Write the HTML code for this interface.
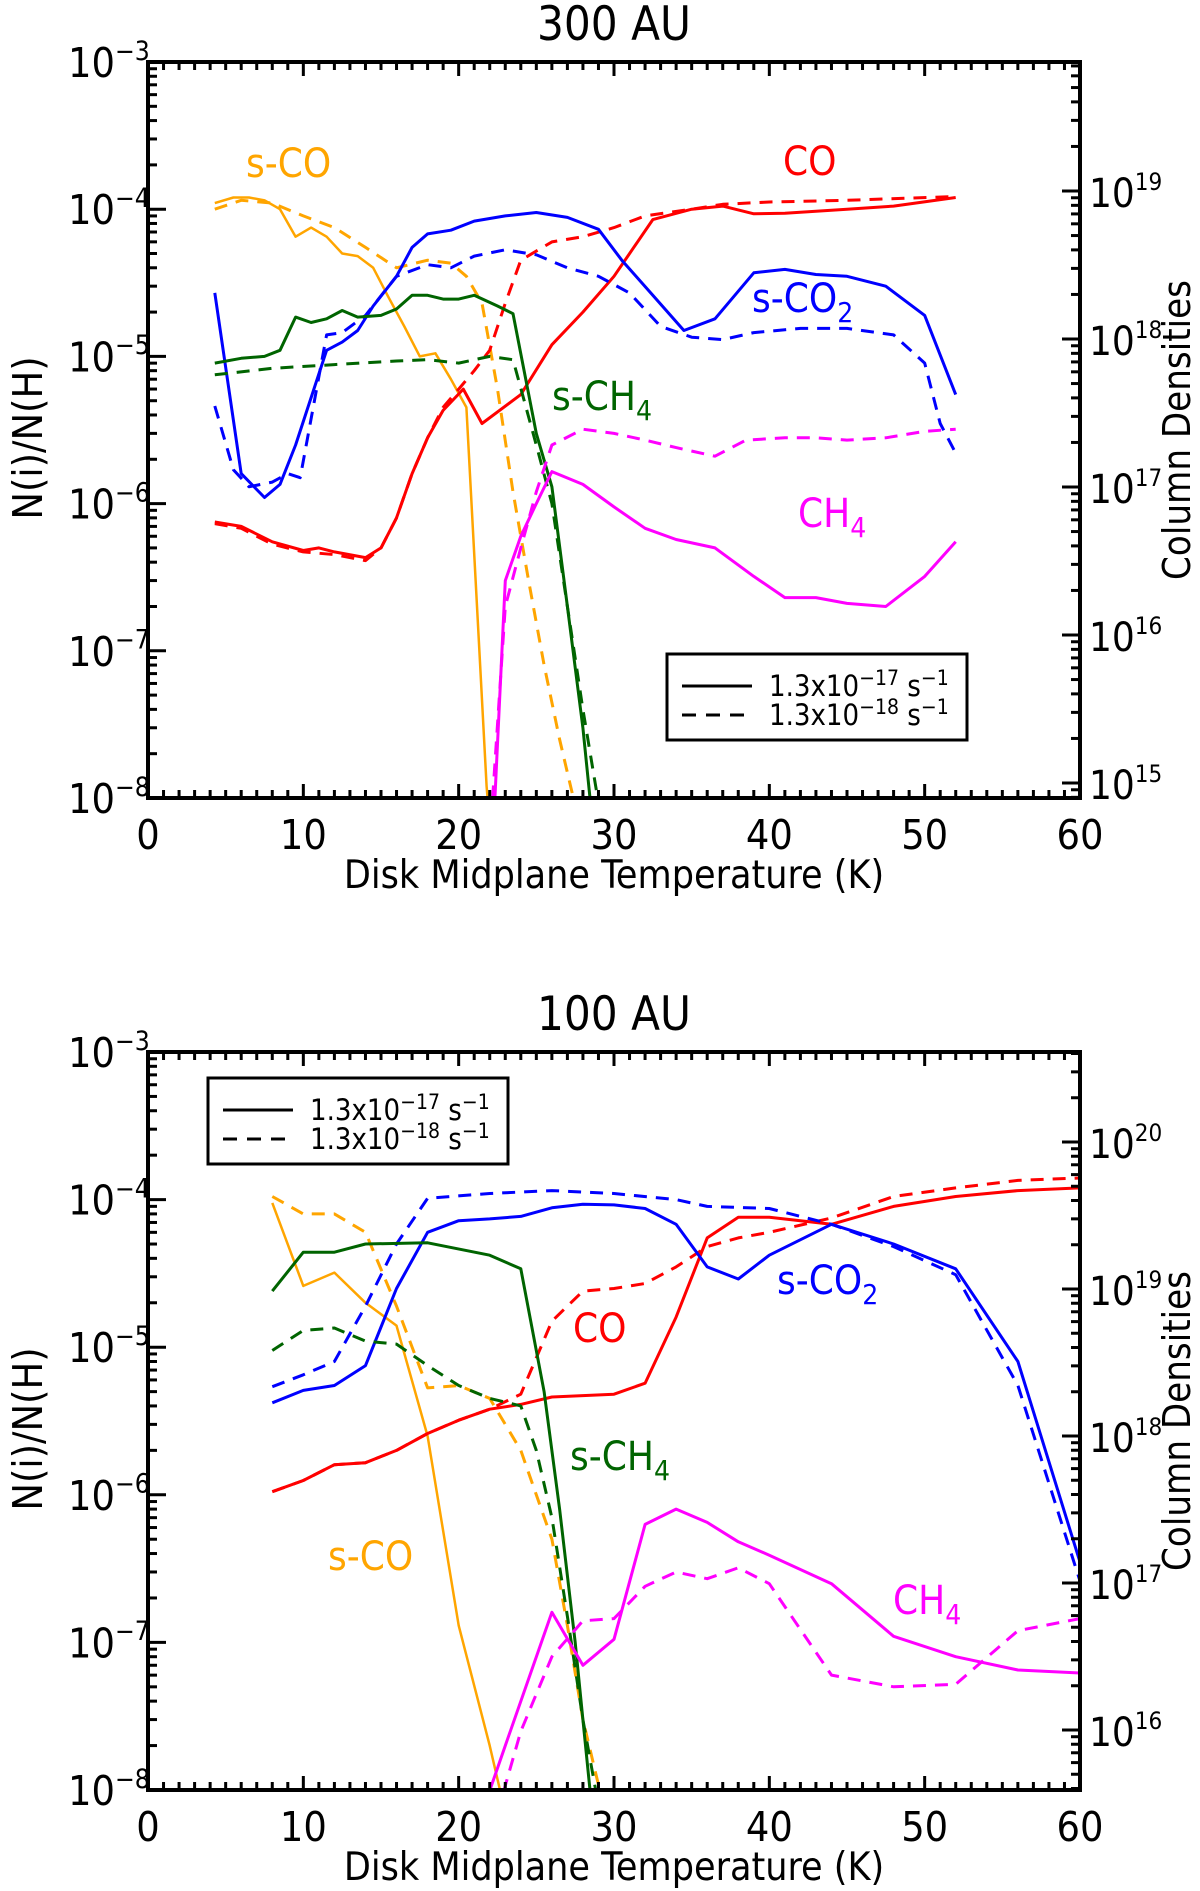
<!DOCTYPE html>
<html><head><meta charset="utf-8">
<style>
html,body{margin:0;padding:0;background:#fff;}
svg{display:block;font-family:"DejaVu Sans Condensed","DejaVu Sans","Liberation Sans",sans-serif;}
</style></head>
<body>
<svg id="fig" width="1200" height="1891" viewBox="0 0 1200 1891" xmlns="http://www.w3.org/2000/svg"></svg>
<script>
// ---- Panel A (300 AU) data ----
const aScoSolidT=[4.3,5.5,6.5,7.5,8.5,9.5,10.5,11.5,12.5,13.5,14.5,15.5,16.5,17.5,18.5,19.5,20.5,21.8,22.1];
const aScoSolidV=[1.1e-4,1.2e-4,1.2e-4,1.15e-4,1.0e-4,6.5e-5,7.5e-5,6.5e-5,5e-5,4.8e-5,4e-5,2.5e-5,1.6e-5,1e-5,1.05e-5,7e-6,4.5e-6,1.2e-8,5e-9];
const aScoDashT=[4.3,6,8,10,12,14,16,18,19.5,20.5,21.5,22.5,23.5,24.5,25.5,26.5,27.6];
const aScoDashV=[1e-4,1.15e-4,1.1e-4,9e-5,7.5e-5,5.5e-5,4e-5,4.5e-5,4.3e-5,3.5e-5,2.3e-5,6e-6,1.2e-6,3e-7,8e-8,2.5e-8,8e-9];
const aCoSolidT=[4.3,6,8,10,11,12,14,15,16,17,18,19,20.3,21.5,24,26,28,30,32.5,35,37,39,41,45,48,52];
const aCoSolidV=[7.5e-7,7e-7,5.5e-7,4.8e-7,5e-7,4.7e-7,4.3e-7,5e-7,8e-7,1.6e-6,2.8e-6,4.3e-6,6e-6,3.5e-6,5.5e-6,1.2e-5,2e-5,3.5e-5,8.5e-5,1e-4,1.05e-4,9.3e-5,9.4e-5,1e-4,1.05e-4,1.2e-4];
const aCoDashT=[4.3,6,8,10,12,14,15,16,17,18,19,20,21,22,23,24,26,28,30,32,35,37,40,45,52];
const aCoDashV=[7.3e-7,6.8e-7,5.3e-7,4.7e-7,4.5e-7,4.1e-7,5e-7,8e-7,1.6e-6,2.8e-6,4.5e-6,6e-6,8e-6,1.1e-5,2.3e-5,4.5e-5,6e-5,6.5e-5,7.5e-5,9e-5,1e-4,1.08e-4,1.12e-4,1.15e-4,1.22e-4];
const aCo2SolidT=[4.3,6,7.5,8.5,9.5,11.5,12.5,13.5,14.5,16,17,18,19.5,21,23,25,27,29,30.5,32.5,34.5,36.5,39,41,43,45,47.5,50,52];
const aCo2SolidV=[2.7e-5,1.6e-6,1.1e-6,1.35e-6,2.5e-6,1.1e-5,1.25e-5,1.5e-5,2.2e-5,3.5e-5,5.5e-5,6.8e-5,7.2e-5,8.3e-5,9e-5,9.5e-5,8.8e-5,7.3e-5,4.5e-5,2.6e-5,1.5e-5,1.8e-5,3.7e-5,3.9e-5,3.6e-5,3.5e-5,3e-5,1.9e-5,5.5e-6];
const aCo2DashT=[4.3,5.5,6.5,8,9,9.8,11.5,12.5,14,16,18,19.5,21,23,25,27,29,31,33,35,37,39,42,45,48,50,51,52];
const aCo2DashV=[4.6e-6,1.7e-6,1.3e-6,1.4e-6,1.6e-6,1.5e-6,1.4e-5,1.45e-5,1.9e-5,3.5e-5,4.2e-5,4e-5,4.8e-5,5.3e-5,4.9e-5,4e-5,3.5e-5,2.7e-5,1.6e-5,1.35e-5,1.3e-5,1.45e-5,1.55e-5,1.55e-5,1.4e-5,9e-6,3.5e-6,2.2e-6];
const aCh4sSolidT=[4.3,6,7.5,8.5,9.5,10.5,11.5,12.5,13.5,15,16,17,18,19,20,21,22.5,23.5,25,26,27,28,28.6];
const aCh4sSolidV=[9e-6,9.7e-6,1e-5,1.1e-5,1.85e-5,1.7e-5,1.8e-5,2.05e-5,1.85e-5,1.9e-5,2.1e-5,2.6e-5,2.6e-5,2.45e-5,2.45e-5,2.6e-5,2.2e-5,1.95e-5,3e-6,1.3e-6,2e-7,3e-8,7e-9];
const aCh4sDashT=[4.3,8,12,16,18,20,22,23.5,25,26,27,28,29.3];
const aCh4sDashV=[7.5e-6,8.3e-6,8.8e-6,9.3e-6,9.5e-6,9e-6,1e-5,9.5e-6,2.5e-6,1e-6,2e-7,4e-8,6e-9];
const aCh4SolidT=[22.2,23,24,25,26,28,30,32,34,36.5,39,41,43,45,47.5,50,52];
const aCh4SolidV=[5e-9,3e-7,6e-7,1e-6,1.65e-6,1.35e-6,9.5e-7,6.8e-7,5.7e-7,5e-7,3.2e-7,2.3e-7,2.3e-7,2.1e-7,2e-7,3.2e-7,5.5e-7];
const aCh4DashT=[22,23,24,25,26,28,30,32,34,36.5,38.5,41,43,45,47.5,50,52];
const aCh4DashV=[5e-9,2e-7,5e-7,1.2e-6,2.5e-6,3.2e-6,3e-6,2.7e-6,2.4e-6,2.1e-6,2.7e-6,2.8e-6,2.8e-6,2.7e-6,2.8e-6,3.1e-6,3.2e-6];

// ---- Panel B (100 AU) data ----
const bScoSolidT=[8,10,12,14,16,18,20,22,23];
const bScoSolidV=[9.5e-5,2.6e-5,3.2e-5,2e-5,1.4e-5,2.5e-6,1.3e-7,2e-8,7e-9];
const bScoDashT=[8,10,12,14,16,18,20,22,23,24,25,26,27,28,29.3];
const bScoDashV=[1.05e-4,8e-5,8e-5,6e-5,1.9e-5,5.3e-6,5.5e-6,4.5e-6,3e-6,2e-6,1e-6,5e-7,1.3e-7,3e-8,8e-9];
const bCh4sSolidT=[8,10,12,14,18,22,24,25.5,26.5,27.5,28,28.6];
const bCh4sSolidV=[2.4e-5,4.4e-5,4.4e-5,5e-5,5.1e-5,4.2e-5,3.4e-5,5e-6,8e-7,1e-7,3e-8,7e-9];
const bCh4sDashT=[8,10,12,14,16,18,20,22,24,25,26,27,28,29.2];
const bCh4sDashV=[9.5e-6,1.3e-5,1.35e-5,1.1e-5,1.05e-5,7.5e-6,5.5e-6,4.5e-6,4e-6,2e-6,7e-7,1.5e-7,3e-8,6e-9];
const bCoSolidT=[8,10,12,14,16,18,20,22,24,26,28,30,32,34,36,38,40,44,48,52,56,60];
const bCoSolidV=[1.05e-6,1.25e-6,1.6e-6,1.65e-6,2e-6,2.6e-6,3.2e-6,3.8e-6,4.1e-6,4.6e-6,4.7e-6,4.8e-6,5.7e-6,1.6e-5,5.5e-5,7.6e-5,7.6e-5,6.8e-5,9e-5,1.05e-4,1.15e-4,1.2e-4];
const bCoDashT=[8,10,12,14,16,18,20,22,24,26,28,30,32,34,36,38,40,44,48,52,56,60];
const bCoDashV=[1.05e-6,1.25e-6,1.6e-6,1.65e-6,2e-6,2.6e-6,3.2e-6,3.8e-6,4.8e-6,1.5e-5,2.4e-5,2.5e-5,2.7e-5,3.5e-5,4.8e-5,5.5e-5,6e-5,7.5e-5,1.05e-4,1.2e-4,1.35e-4,1.4e-4];
const bCo2SolidT=[8,10,12,14,16,18,20,22,24,26,28,30,32,34,36,38,40,44,48,52,56,60];
const bCo2SolidV=[4.2e-6,5.1e-6,5.5e-6,7.5e-6,2.5e-5,6e-5,7.2e-5,7.4e-5,7.7e-5,8.8e-5,9.3e-5,9.2e-5,8.7e-5,6.8e-5,3.5e-5,2.9e-5,4.2e-5,6.8e-5,5e-5,3.4e-5,8e-6,3.5e-7];
const bCo2DashT=[8,10,12,14,16,18,22,26,30,34,36,40,44,48,52,56,60];
const bCo2DashV=[5.4e-6,6.5e-6,8e-6,1.9e-5,5e-5,1.02e-4,1.1e-4,1.15e-4,1.1e-4,1e-4,9e-5,8.7e-5,6.8e-5,4.8e-5,3.1e-5,5.5e-6,2.6e-7];
const bCh4SolidT=[21.5,23,26,28,30,32,34,36,38,40,44,48,52,56,60];
const bCh4SolidV=[7e-9,2e-8,1.6e-7,7e-8,1.05e-7,6.3e-7,8e-7,6.5e-7,4.8e-7,3.9e-7,2.5e-7,1.1e-7,8e-8,6.5e-8,6.2e-8];
const bCh4DashT=[22.5,24,26,28,30,32,34,36,38,40,44,48,52,56,60];
const bCh4DashV=[7e-9,2.5e-8,8e-8,1.4e-7,1.45e-7,2.4e-7,3e-7,2.7e-7,3.2e-7,2.5e-7,6e-8,5e-8,5.2e-8,1.2e-7,1.45e-7];

const xTickLabels=["0","10","20","30","40","50","60"];
const yTickExps=[-3,-4,-5,-6,-7,-8];
const aRightExps=[15,16,17,18,19];
const bRightExps=[16,17,18,19,20];

const NS="http://www.w3.org/2000/svg";
const svg=document.getElementById('fig');
function el(tag,attrs,parent){const e=document.createElementNS(NS,tag);for(const k in attrs)e.setAttribute(k,attrs[k]);(parent||svg).appendChild(e);return e;}

const X0=148,X1=1080;
function xs(t){return X0+(t/60)*(X1-X0);}

function sup(parent,x,y,base,exp,size,anchor,name,supScale){
  const t=el('text',{x:x,y:y,'font-size':size,'text-anchor':anchor||'start',fill:'#000'},parent);
  
  
  const a=document.createElementNS(NS,'tspan');a.textContent=base;t.appendChild(a);
  const b=document.createElementNS(NS,'tspan');b.setAttribute('dy',-size*0.42);b.setAttribute('font-size',size*(supScale||0.64));b.textContent=exp;t.appendChild(b);
  return t;
}

function panel(cfg){
  const g=el('g',{});
  
  
  const top=cfg.top,bot=cfg.bot,dec=(bot-top)/5;
  const ys=v=>top+(-3-Math.log10(v))*dec;
  const ry=e=>cfg.r0y-(e-cfg.r0e)*cfg.rdec;
  const tt=el('text',{x:614,y:cfg.titleY,'font-size':47,'text-anchor':'middle'},g);
  tt.textContent=cfg.title;
  
  
  const cid='clip'+cfg.id;
  const cp=el('clipPath',{id:cid},g);el('rect',{x:X0,y:top,width:X1-X0,height:bot-top},cp);
  const lg=el('g',{'clip-path':'url(#'+cid+')'},g);
  const series=[
    [cfg.d.scoS,'#ffa500',0,'s-co-solid',2.5],[cfg.d.scoD,'#ffa500',1,'s-co-dashed',3],
    [cfg.d.coS,'#ff0000',0,'co-solid',3],[cfg.d.coD,'#ff0000',1,'co-dashed',3],
    [cfg.d.co2S,'#0000ff',0,'s-co2-solid',3],[cfg.d.co2D,'#0000ff',1,'s-co2-dashed',3],
    [cfg.d.ch4sS,'#006400',0,'s-ch4-solid',3],[cfg.d.ch4sD,'#006400',1,'s-ch4-dashed',3],
    [cfg.d.ch4S,'#ff00ff',0,'ch4-solid',3],[cfg.d.ch4D,'#ff00ff',1,'ch4-dashed',3]];
  series.forEach(s=>{
    const T=s[0][0],V=s[0][1];
    const d=T.map((t,i)=>(i?'L':'M')+xs(t).toFixed(1)+','+ys(V[i]).toFixed(1)).join(' ');
    const p=el('path',{d:d,fill:'none',stroke:s[1],'stroke-width':s[4],'stroke-linejoin':'round'},lg);
    if(s[2])p.setAttribute('stroke-dasharray','13,9');
    
    
  });
  const fr=el('rect',{x:X0,y:top,width:X1-X0,height:bot-top,fill:'none',stroke:'#000','stroke-width':4},g);
  
  
  for(let t=0;t<=60;t++){
    const L=(t%10===0)?14:8,x=xs(t);
    el('line',{x1:x,y1:bot,x2:x,y2:bot-L,stroke:'#000','stroke-width':3},g);
    el('line',{x1:x,y1:top,x2:x,y2:top+L,stroke:'#000','stroke-width':3},g);
  }
  xTickLabels.forEach((lab,i)=>{
    const tx=el('text',{x:xs(i*10),y:bot+51,'font-size':41,'text-anchor':'middle'},g);
    tx.textContent=lab;
    
    
  });
  const xl=el('text',{x:614,y:bot+90,'font-size':39,'text-anchor':'middle'},g);
  xl.textContent='Disk Midplane Temperature (K)';
  
  
  yTickExps.forEach(e=>{
    const y=ys(Math.pow(10,e));
    el('line',{x1:X0,y1:y,x2:X0+18,y2:y,stroke:'#000','stroke-width':3},g);
    if(e>-8)for(let m=2;m<=9;m++){const yy=ys(m*Math.pow(10,e-1));el('line',{x1:X0,y1:yy,x2:X0+9,y2:yy,stroke:'#000','stroke-width':3},g);}
    sup(g,68,y+15,'10','\u2212'+(-e),41,'start','y-tick-label');
  });
  const yl=el('text',{x:0,y:0,'font-size':41,'text-anchor':'middle',transform:'translate(42,'+((top+bot)/2+8)+') rotate(-90)'},g);
  yl.textContent='N(i)/N(H)';
  
  
  for(let e=cfg.rmin;e<=cfg.rmax;e++){
    for(let m=1;m<=9;m++){
      const yy=ry(e+Math.log10(m));
      if(yy<top-1||yy>bot+1)continue;
      el('line',{x1:X1,y1:yy,x2:X1-(m===1?18:9),y2:yy,stroke:'#000','stroke-width':3},g);
    }
  }
  cfg.rexps.forEach(e=>{sup(g,X1+9,ry(e)+16,'10',String(e),40,'start','right-tick-label',0.6);});
  const rl=el('text',{x:0,y:0,'font-size':38,'text-anchor':'middle',transform:'translate(1190,'+((top+bot)/2)+') rotate(-90)'},g);
  rl.textContent='Column Densities';
  
  
  cfg.labels.forEach(l=>{
    const t=el('text',{x:l[0],y:l[1],'font-size':40,fill:l[3]},g);
    
    
    const a=document.createElementNS(NS,'tspan');a.textContent=l[2];t.appendChild(a);
    if(l[5]){const b=document.createElementNS(NS,'tspan');b.setAttribute('dy',10);b.setAttribute('font-size',28);b.textContent=l[5];t.appendChild(b);}
  });
  const lx=cfg.leg[0],ly=cfg.leg[1];
  const lgd=el('g',{},g);
  
  
  el('rect',{x:lx,y:ly,width:300,height:86,fill:'#fff',stroke:'#000','stroke-width':3},lgd);
  el('line',{x1:lx+15,y1:ly+32,x2:lx+85,y2:ly+32,stroke:'#000','stroke-width':3},lgd);
  el('line',{x1:lx+15,y1:ly+61,x2:lx+85,y2:ly+61,stroke:'#000','stroke-width':3,'stroke-dasharray':'14,10'},lgd);
  [['17',ly+42,'legend-entry-solid'],['18',ly+71,'legend-entry-dashed']].forEach(r=>{
    const t=el('text',{x:lx+102,y:r[1],'font-size':29},lgd);
    
    
    const parts=[['1.3x10',0,29],['\u2212'+r[0],-11,21],[' s',11,29],['\u22121',-11,21]];
    parts.forEach(p=>{const s=document.createElementNS(NS,'tspan');s.setAttribute('dy',p[1]);s.setAttribute('font-size',p[2]);s.textContent=p[0];t.appendChild(s);});
  });
}

panel({id:'a',name:'panel-300au',title:'300 AU',titleY:40,top:62,bot:798,
  r0y:783,r0e:15,rdec:148,rmin:14,rmax:20,rexps:aRightExps,leg:[667,654],
  d:{scoS:[aScoSolidT,aScoSolidV],scoD:[aScoDashT,aScoDashV],coS:[aCoSolidT,aCoSolidV],coD:[aCoDashT,aCoDashV],
     co2S:[aCo2SolidT,aCo2SolidV],co2D:[aCo2DashT,aCo2DashV],ch4sS:[aCh4sSolidT,aCh4sSolidV],ch4sD:[aCh4sDashT,aCh4sDashV],
     ch4S:[aCh4SolidT,aCh4SolidV],ch4D:[aCh4DashT,aCh4DashV]},
  labels:[[246,177,'s-CO','#ffa500','label-s-co'],[783,175,'CO','#ff0000','label-co'],[752,312,'s-CO','#0000ff','label-s-co2','2'],
          [552,410,'s-CH','#006400','label-s-ch4','4'],[798,527,'CH','#ff00ff','label-ch4','4']]});
panel({id:'b',name:'panel-100au',title:'100 AU',titleY:1030,top:1052,bot:1790,
  r0y:1142,r0e:20,rdec:147,rmin:15,rmax:21,rexps:bRightExps,leg:[208,1078],
  d:{scoS:[bScoSolidT,bScoSolidV],scoD:[bScoDashT,bScoDashV],coS:[bCoSolidT,bCoSolidV],coD:[bCoDashT,bCoDashV],
     co2S:[bCo2SolidT,bCo2SolidV],co2D:[bCo2DashT,bCo2DashV],ch4sS:[bCh4sSolidT,bCh4sSolidV],ch4sD:[bCh4sDashT,bCh4sDashV],
     ch4S:[bCh4SolidT,bCh4SolidV],ch4D:[bCh4DashT,bCh4DashV]},
  labels:[[777,1294,'s-CO','#0000ff','label-s-co2','2'],[573,1342,'CO','#ff0000','label-co'],[570,1470,'s-CH','#006400','label-s-ch4','4'],
          [328,1570,'s-CO','#ffa500','label-s-co'],[893,1614,'CH','#ff00ff','label-ch4','4']]});
</script>
</body></html>
